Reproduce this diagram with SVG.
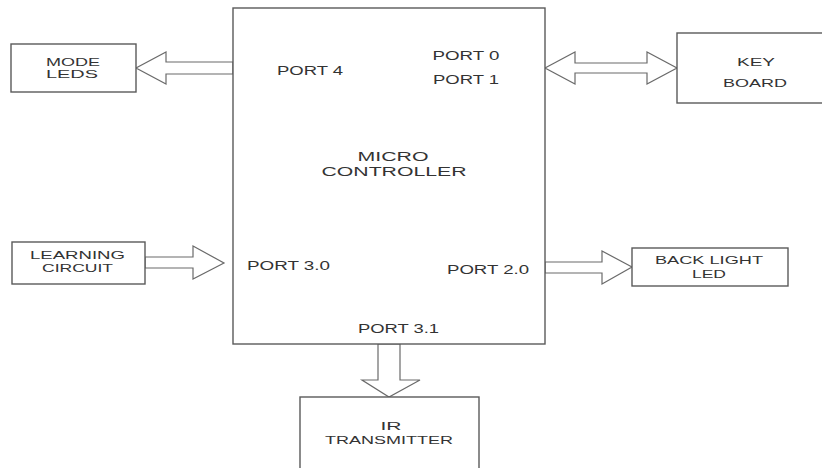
<svg xmlns="http://www.w3.org/2000/svg" width="822" height="468" viewBox="0 0 822 468">
<style>
.box{fill:#fff;stroke:#5a5a5a;stroke-width:1.4}
.arr{fill:#fff;stroke:#6a6a6a;stroke-width:1.2;stroke-linejoin:miter}
text{font-family:"Liberation Sans",Arial,sans-serif;font-size:12px;fill:#333;text-anchor:middle}
.lbl{font-size:11px}
</style>
<rect width="822" height="468" fill="#fff"/>
<g id="connectors">
<polygon class="arr" points="233,62 166,62 166,52 136,68 166,84 166,74 233,74"/>
<polygon class="arr" points="545,68 575,52 575,63 647,63 647,52 677,68 647,84 647,73 575,73 575,84"/>
<polygon class="arr" points="145,257 193,257 193,246 224,263 193,279 193,268 145,268"/>
<polygon class="arr" points="545,262 602,262 602,251 632,267 602,284 602,273 545,273"/>
<polygon class="arr" points="378,344 378,380 362,380 389,397 420,380 400,380 400,344"/>
</g>
<g id="microcontroller">
<rect class="box" x="233" y="8" width="312" height="336"/>
<text x="466" y="59.5" textLength="67" lengthAdjust="spacingAndGlyphs">PORT 0</text>
<text x="466" y="83.5" textLength="66" lengthAdjust="spacingAndGlyphs">PORT 1</text>
<text x="310" y="74.5" textLength="66" lengthAdjust="spacingAndGlyphs">PORT 4</text>
<text x="393" y="160.5" textLength="71" lengthAdjust="spacingAndGlyphs">MICRO</text>
<text x="394" y="176" textLength="145" lengthAdjust="spacingAndGlyphs">CONTROLLER</text>
<text x="288.5" y="269.5" textLength="83" lengthAdjust="spacingAndGlyphs">PORT 3.0</text>
<text x="488" y="273.5" textLength="82" lengthAdjust="spacingAndGlyphs">PORT 2.0</text>
<text x="398.5" y="332.5" textLength="81" lengthAdjust="spacingAndGlyphs">PORT 3.1</text>
</g>
<g id="mode-leds">
<rect class="box" x="11" y="44" width="125" height="48"/>
<text class="lbl" x="73" y="65.5" textLength="54" lengthAdjust="spacingAndGlyphs">MODE</text>
<text class="lbl" x="72" y="78" textLength="52" lengthAdjust="spacingAndGlyphs">LEDS</text>
</g>
<g id="key-board">
<rect class="box" x="677" y="33" width="160" height="70"/>
<text class="lbl" x="756" y="66" textLength="38" lengthAdjust="spacingAndGlyphs">KEY</text>
<text class="lbl" x="755" y="87" textLength="64" lengthAdjust="spacingAndGlyphs">BOARD</text>
</g>
<g id="learning-circuit">
<rect class="box" x="12" y="242" width="133" height="42"/>
<text class="lbl" x="77.5" y="258.5" textLength="95" lengthAdjust="spacingAndGlyphs">LEARNING</text>
<text class="lbl" x="77.5" y="271.5" textLength="71" lengthAdjust="spacingAndGlyphs">CIRCUIT</text>
</g>
<g id="back-light-led">
<rect class="box" x="632" y="248" width="156" height="38"/>
<text class="lbl" x="709" y="264" textLength="108" lengthAdjust="spacingAndGlyphs">BACK LIGHT</text>
<text class="lbl" x="709" y="277.5" textLength="34" lengthAdjust="spacingAndGlyphs">LED</text>
</g>
<g id="ir-transmitter">
<rect class="box" x="300" y="397" width="179" height="80"/>
<text class="lbl" x="391" y="430" textLength="21" lengthAdjust="spacingAndGlyphs">IR</text>
<text class="lbl" x="389" y="443.5" textLength="128" lengthAdjust="spacingAndGlyphs">TRANSMITTER</text>
</g>
</svg>
